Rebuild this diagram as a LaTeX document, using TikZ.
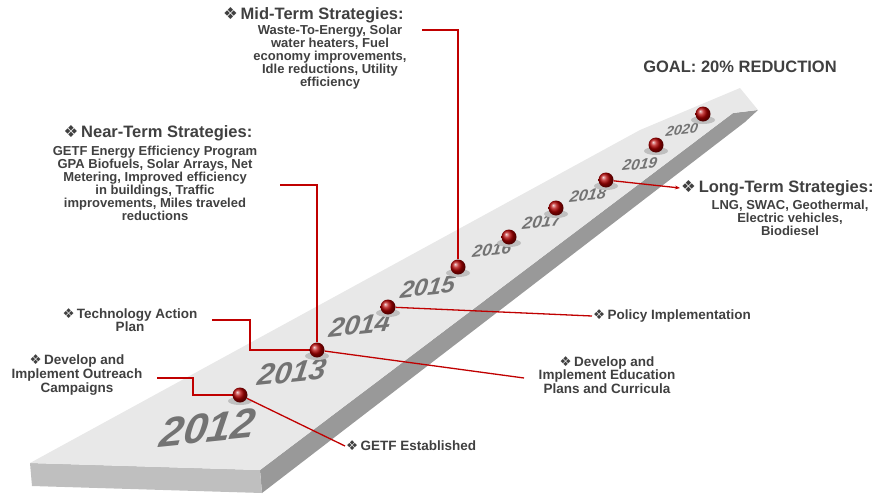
\documentclass[tikz,border=0pt]{standalone}
\usepackage{fontspec}
\setmainfont{Liberation Sans}
\newfontfamily\dv{DejaVu Sans}
\usetikzlibrary{positioning,arrows.meta,shadings}
\definecolor{txt}{RGB}{64,64,64}
\definecolor{lnk}{RGB}{192,0,0}
\newcommand{\dia}{{\dv\mdseries ❖}\,}
\tikzset{
  label/.style={font=\bfseries\fontsize{13.5}{12.5}\selectfont, text=txt, align=center, inner sep=1pt},
  head/.style={font=\bfseries\fontsize{16.5}{16}\selectfont, text=txt, inner sep=1pt},
  body/.style={font=\bfseries\fontsize{13}{13}\selectfont, text=txt, align=center, inner sep=1pt},
  link/.style={draw=lnk, line width=1.3pt},
  ball/.style={circle, minimum size=15pt, inner sep=0pt, ball color=red!70!black},
  year/.style={font=\bfseries\itshape, text=black!55, xslant=0.25, rotate=6},
}
\begin{document}
\begin{tikzpicture}[x=1pt,y=1pt]
\useasboundingbox (0,0) rectangle (891,-498);
% road
\fill[black!40] (260,-470) -- (733,-113) -- (758,-110) -- (745,-122) -- (262,-493) -- cycle;
\fill[black!25] (30,-463) -- (260,-470) -- (262,-493) -- (32,-486) -- cycle;
\fill[black!9] (30,-463) -- (260,-470) -- (733,-113) -- (758,-110) -- (740,-88) -- (640,-130) -- cycle;
% years
\node[year, font=\bfseries\itshape\fontsize{42}{42}\selectfont] at (208,-428) {2012};
\node[year, font=\bfseries\itshape\fontsize{30}{30}\selectfont] at (292,-372) {2013};
\node[year, font=\bfseries\itshape\fontsize{27}{27}\selectfont] at (360,-325) {2014};
\node[year, font=\bfseries\itshape\fontsize{24}{24}\selectfont] at (428,-287) {2015};
\node[year, font=\bfseries\itshape\fontsize{17}{17}\selectfont] at (492,-250) {2016};
\node[year, font=\bfseries\itshape\fontsize{17}{17}\selectfont] at (542,-222) {2017};
\node[year, font=\bfseries\itshape\fontsize{16}{16}\selectfont] at (588,-195) {2018};
\node[year, font=\bfseries\itshape\fontsize{15}{15}\selectfont] at (640,-164) {2019};
\node[year, font=\bfseries\itshape\fontsize{14}{14}\selectfont] at (682,-130) {2020};
% spheres with shadows
\foreach \n/\x/\y in {b12/240/395,b13/317/350,b14/388/307,b15/458/267,b16/509/237,b17/556/208,b18/606/180,b19/656/145,b20/703/114}{
  \fill[black!25] (\x,-\y-6) ellipse (12pt and 4pt);
  \node[ball] (\n) at (\x,-\y) {};
}
% texts
\node[head, anchor=west] (midh) at (222,-15) {\dia Mid-Term Strategies:};
\node[body, anchor=north] (midb) at (330,-24) {Waste-To-Energy, Solar\\water heaters,\ Fuel\\economy improvements,\\Idle reductions, Utility\\efficiency};
\node[head] (nearh) at (158,-133) {\dia Near-Term Strategies:};
\node[body, anchor=north] (nearb) at (155,-145) {GETF Energy Efficiency Program\\GPA Biofuels, Solar Arrays, Net\\Metering,\ Improved efficiency\\in buildings, Traffic\\improvements, Miles traveled\\reductions};
\node[head] (goal) at (740,-67) {GOAL:\ 20\% REDUCTION};
\node[head, anchor=west] (longh) at (680,-188) {\dia Long-Term Strategies:};
\node[body, anchor=north] (longb) at (790,-199) {LNG, SWAC, Geothermal,\\Electric vehicles,\\Biodiesel};
\node[label] (tech) at (130,-320) {\dia Technology Action\\Plan};
\node[label] (outr) at (77,-375) {\dia Develop\ and\\Implement Outreach\\Campaigns};
\node[label, anchor=west] (pol) at (592,-316) {\dia Policy Implementation};
\node[label] (edu) at (607,-375) {\dia Develop\ and\\Implement Education\\Plans and Curricula};
\node[label, anchor=west] (getf) at (345,-446) {\dia GETF Established};
% connectors
\draw[link] (b15) -- (458,-30) -- (422,-30);
\draw[link] (b13) -- (317,-185) -- (280,-185);
\draw[link] (212,-320) -- (250,-320) -- (250,-350) -- (b13);
\draw[link] (157,-378) -- (193,-378) -- (193,-395) -- (b12);
\draw[link] (b12) -- (getf.west);
\draw[link] (b14) -- (pol.west);
\draw[link] (b13) -- (524,-378);
\draw[link, -{Stealth[length=5pt]}] (b18) -- (longh.west);
\end{tikzpicture}
\end{document}
